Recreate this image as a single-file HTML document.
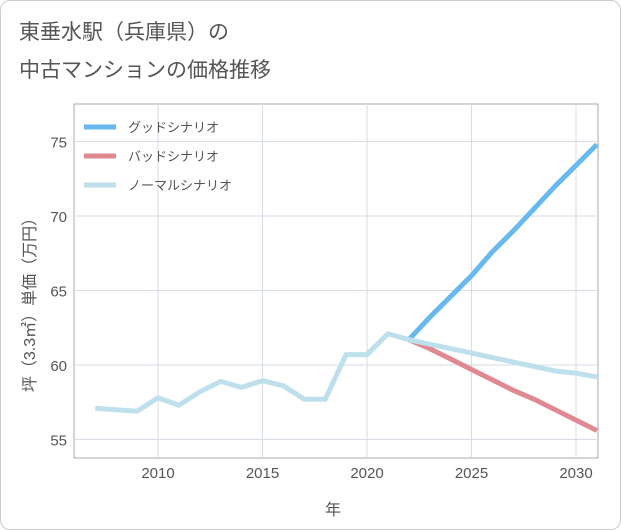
<!DOCTYPE html>
<html><head><meta charset="utf-8"><style>
body{margin:0;background:#fff;}
#c{position:relative;width:619px;height:528px;border:1px solid #ccc;border-radius:10px;overflow:hidden;font-family:"Liberation Sans","Noto Sans CJK JP",sans-serif;}
</style></head><body>
<div id="c">
<svg width="621" height="530">
<text x="18" y="38" font-size="21" fill="#555" font-family="Liberation Sans, Noto Sans CJK JP, sans-serif">東垂水駅（兵庫県）の</text>
<text x="18" y="76" font-size="21" fill="#555" font-family="Liberation Sans, Noto Sans CJK JP, sans-serif">中古マンションの価格推移</text>
<g id="grid"></g><g id="lines"></g><g id="legend"></g>
<text x="332" y="514" font-size="16" fill="#555" text-anchor="middle" font-family="Liberation Sans, Noto Sans CJK JP, sans-serif">年</text>
<text transform="translate(34,300) rotate(-90)" font-size="16" fill="#555" text-anchor="middle" font-family="Liberation Sans, Noto Sans CJK JP, sans-serif">坪（3.3㎡）単価（万円）</text>
</svg></div>
<script>
const histYears=[2007,2008,2009,2010,2011,2012,2013,2014,2015,2016,2017,2018,2019,2020,2021,2022];
const histValues=[57.1,57.0,56.9,57.8,57.3,58.2,58.9,58.5,58.95,58.6,57.7,57.7,60.7,60.7,62.1,61.7];
const fcYears=[2022,2023,2024,2025,2026,2027,2028,2029,2030,2031];
const goodValues=[61.7,63.2,64.6,66.0,67.6,69.0,70.5,72.0,73.4,74.8];
const badValues=[61.7,61.1,60.4,59.7,59.0,58.3,57.7,57.0,56.3,55.6];
const normalValues=[61.7,61.4,61.1,60.8,60.5,60.2,59.9,59.6,59.45,59.2];
const xTicks=[2010,2015,2020,2025,2030];
const yTicks=[55,60,65,70,75];
const legendLabels=["グッドシナリオ","バッドシナリオ","ノーマルシナリオ"];
const X0=73,X1=597,Y0=103,Y1=457;
const xs=y=>157+(y-2010)*20.9;
const ys=v=>364-(v-60)*14.9;
const NS="http://www.w3.org/2000/svg";
function mk(t,a,p){const e=document.createElementNS(NS,t);for(const k in a)e.setAttribute(k,a[k]);p.appendChild(e);return e;}
const g=document.getElementById('grid');
let r=mk('rect',{x:X0,y:Y0,width:X1-X0,height:Y1-Y0,fill:'none',stroke:'#aaa'},g);


xTicks.forEach(t=>{
 let l=mk('line',{x1:xs(t),x2:xs(t),y1:Y0,y2:Y1,stroke:'#d5dde6'},g);
 
 
 let tx=mk('text',{x:xs(t),y:477,'font-size':15,fill:'#555','text-anchor':'middle'},g);tx.textContent=t;
 
 
});
yTicks.forEach(t=>{
 let l=mk('line',{x1:X0,x2:X1,y1:ys(t),y2:ys(t),stroke:'#d5dde6'},g);
 
 
 let tx=mk('text',{x:66,y:ys(t)+6,'font-size':15,fill:'#555','text-anchor':'end'},g);tx.textContent=t;
 
 
});
const L=document.getElementById('lines');
function line(years,vals,col,name){
 const p=mk('polyline',{points:years.map((y,i)=>xs(y)+','+ys(vals[i])).join(' '),fill:'none',stroke:col,'stroke-width':5,'stroke-linejoin':'round'},L);
 
 
}
line(fcYears,goodValues,'#68b9ef','good-scenario-line');
line(fcYears,badValues,'#df8a91','bad-scenario-line');
line(fcYears,normalValues,'#bde0ec','normal-scenario-line');
line(histYears,histValues,'#bde0ec','historical-line');
const lg=document.getElementById('legend');
const cols=['#68b9ef','#df8a91','#bde0ec'];
legendLabels.forEach((s,i)=>{
 const y=126+i*29;
 let l=mk('line',{x1:83,x2:115,y1:y,y2:y,stroke:cols[i],'stroke-width':5},lg);
 
 
 let t=mk('text',{x:127,y:y+5,'font-size':13,fill:'#555'},lg);t.textContent=s;
 
 
});
</script>
</body></html>
